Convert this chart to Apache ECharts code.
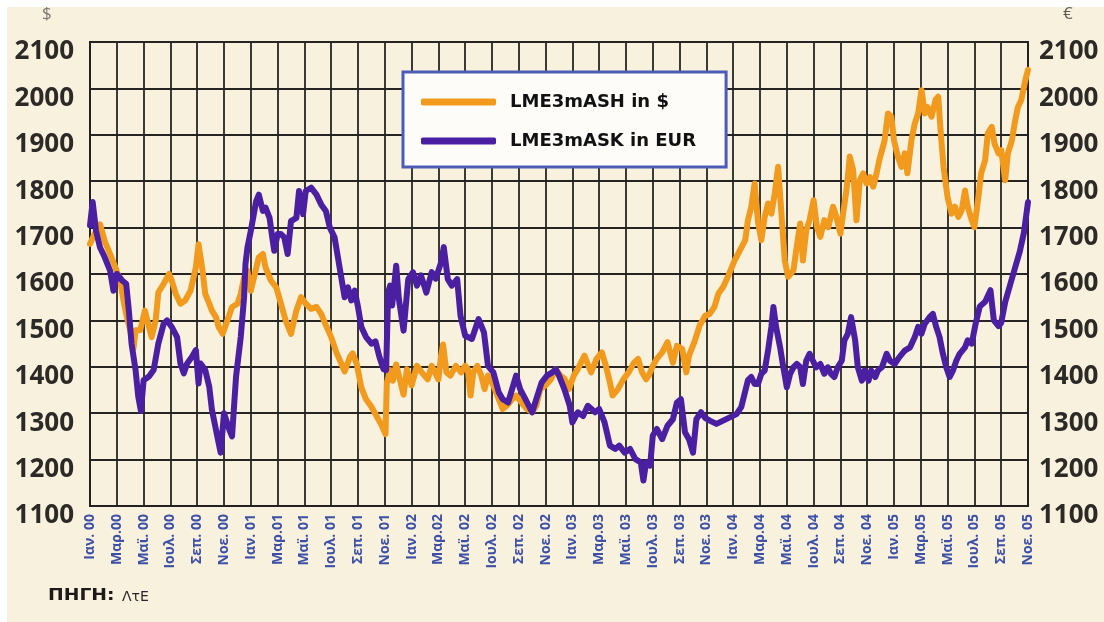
<!DOCTYPE html>
<html>
<head>
<meta charset="utf-8">
<script src="https://cdn.jsdelivr.net/npm/echarts@6/dist/echarts.min.js"></script>
<style>
  html, body { margin: 0; padding: 0; background: #ffffff; }
  #chart { width: 1104px; height: 622px; }
</style>
</head>
<body>
<div id="chart"></div>
<script>
// Tick labels for the month axis (one every two months, Jan 2000 .. Nov 2005)
const monthLabels = [
  'Ιαν. 00','Μαρ.00','Μαϊ. 00','Ιουλ. 00','Σεπ. 00','Νοε. 00',
  'Ιαν. 01','Μαρ.01','Μαϊ. 01','Ιουλ. 01','Σεπ. 01','Νοε. 01',
  'Ιαν. 02','Μαρ.02','Μαϊ. 02','Ιουλ. 02','Σεπ. 02','Νοε. 02',
  'Ιαν. 03','Μαρ.03','Μαϊ. 03','Ιουλ. 03','Σεπ. 03','Νοε. 03',
  'Ιαν. 04','Μαρ.04','Μαϊ. 04','Ιουλ. 04','Σεπ. 04','Νοε. 04',
  'Ιαν. 05','Μαρ.05','Μαϊ. 05','Ιουλ. 05','Σεπ. 05','Νοε. 05'
];

// Aluminium 3-month price in US dollars: [months since Jan 2000, price]
const usdPrices = [
  [0,1665],[0.4,1690],[0.75,1707],[1.1,1671],[1.5,1643],[1.9,1614],[2.25,1586],[2.5,1543],[2.75,1507],
  [3.0,1479],[3.25,1440],[3.4,1479],[3.75,1479],[4.1,1521],[4.4,1486],[4.6,1464],[4.9,1500],[5.1,1560],
  [5.5,1579],[5.9,1600],[6.1,1586],[6.4,1557],[6.75,1536],[7.1,1543],[7.5,1564],[7.9,1614],[8.1,1664],
  [8.4,1607],[8.6,1557],[8.9,1536],[9.1,1521],[9.4,1507],[9.6,1486],[9.9,1471],[10.25,1500],[10.6,1529],
  [11.0,1536],[11.25,1557],[11.5,1593],[11.75,1607],[12.0,1564],[12.3,1600],[12.6,1636],[12.9,1643],
  [13.1,1614],[13.5,1586],[13.9,1571],[14.25,1536],[14.6,1500],[15.0,1471],[15.4,1521],[15.75,1550],
  [16.1,1536],[16.5,1525],[16.9,1529],[17.25,1514],[17.6,1490],[18.0,1464],[18.4,1430],[18.75,1407],
  [19.0,1390],[19.4,1421],[19.6,1429],[19.9,1407],[20.25,1355],[20.6,1330],[21.0,1314],[21.4,1293],
  [21.75,1275],[22.05,1255],[22.15,1365],[22.4,1393],[22.6,1370],[22.85,1405],[23.05,1381],[23.4,1340],
  [23.65,1395],[24.0,1360],[24.4,1402],[24.75,1388],[25.2,1373],[25.5,1402],[26.0,1373],[26.2,1424],
  [26.35,1448],[26.6,1388],[26.9,1381],[27.3,1402],[27.7,1388],[28.0,1402],[28.2,1395],[28.4,1338],
  [28.6,1388],[28.9,1402],[29.2,1381],[29.45,1352],[29.7,1381],[30.1,1360],[30.4,1338],[30.8,1309],
  [31.1,1316],[31.5,1330],[31.8,1338],[32.2,1323],[32.6,1309],[33.0,1302],[33.3,1316],[33.6,1352],
  [34.0,1360],[34.4,1373],[34.75,1395],[35.1,1381],[35.4,1375],[35.75,1352],[36.1,1381],[36.4,1395],
  [36.9,1424],[37.1,1409],[37.4,1388],[37.8,1417],[38.2,1431],[38.5,1402],[38.8,1366],[39.0,1338],
  [39.4,1352],[39.8,1373],[40.2,1388],[40.6,1409],[40.9,1417],[41.2,1388],[41.5,1373],[41.7,1381],
  [42.0,1402],[42.3,1417],[42.7,1431],[43.1,1453],[43.5,1409],[43.8,1445],[44.2,1438],[44.5,1388],
  [44.7,1424],[45.1,1453],[45.5,1489],[45.9,1510],[46.25,1514],[46.6,1529],[46.9,1558],[47.25,1572],
  [47.6,1594],[48.1,1629],[48.5,1651],[48.9,1673],[49.1,1716],[49.35,1745],[49.6,1795],[49.85,1712],
  [50.1,1673],[50.35,1723],[50.6,1752],[50.85,1730],[51.1,1773],[51.35,1831],[51.6,1730],[51.85,1629],
  [52.1,1594],[52.5,1608],[52.7,1651],[53.0,1709],[53.2,1629],[53.45,1694],[53.7,1716],[54.0,1759],
  [54.25,1701],[54.5,1680],[54.8,1716],[55.1,1701],[55.45,1745],[55.7,1723],[56.0,1687],[56.2,1730],
  [56.45,1780],[56.7,1853],[56.95,1824],[57.2,1716],[57.45,1802],[57.7,1817],[57.95,1795],[58.2,1809],
  [58.45,1788],[58.7,1817],[58.9,1845],[59.3,1888],[59.55,1946],[59.8,1939],[60.0,1888],[60.3,1852],
  [60.55,1831],[60.8,1860],[61.0,1817],[61.3,1888],[61.55,1924],[61.8,1946],[62.05,1996],[62.3,1946],
  [62.5,1960],[62.8,1939],[63.1,1975],[63.3,1982],[63.5,1900],[63.7,1830],[64.0,1765],[64.3,1730],
  [64.55,1745],[64.8,1723],[65.05,1737],[65.3,1780],[65.5,1745],[65.8,1716],[66.0,1701],[66.3,1766],
  [66.5,1817],[66.8,1845],[67.0,1903],[67.3,1917],[67.5,1881],[67.8,1860],[68.0,1867],[68.3,1802],
  [68.5,1860],[68.8,1888],[69.0,1924],[69.25,1960],[69.5,1975],[69.75,2011],[70,2040]
];

// Aluminium 3-month price in euro: [months since Jan 2000, price]
const eurPrices = [
  [0,1705],[0.2,1755],[0.45,1693],[0.75,1657],[1.1,1636],[1.5,1607],[1.75,1564],[2.0,1600],[2.4,1586],
  [2.7,1579],[2.9,1521],[3.1,1450],[3.4,1393],[3.6,1336],[3.8,1305],[4.0,1371],[4.4,1379],[4.75,1393],
  [5.1,1450],[5.5,1493],[5.75,1500],[6.1,1486],[6.5,1464],[6.75,1407],[7.0,1386],[7.25,1407],[7.6,1421],
  [7.9,1436],[8.1,1364],[8.25,1407],[8.6,1393],[8.9,1357],[9.1,1307],[9.5,1250],[9.75,1215],[10.0,1300],
  [10.4,1264],[10.6,1250],[10.9,1379],[11.25,1464],[11.5,1550],[11.6,1621],[11.75,1657],[12.0,1693],
  [12.4,1757],[12.6,1771],[12.9,1736],[13.1,1743],[13.4,1721],[13.6,1679],[13.75,1650],[14.0,1686],
  [14.25,1686],[14.5,1679],[14.75,1643],[15.0,1714],[15.4,1721],[15.6,1779],[15.9,1729],[16.1,1779],
  [16.5,1786],[16.9,1771],[17.25,1750],[17.6,1736],[17.9,1700],[18.25,1679],[18.5,1636],[18.75,1593],
  [19.0,1550],[19.25,1571],[19.5,1543],[19.75,1564],[20.0,1529],[20.25,1486],[20.6,1464],[21.0,1450],
  [21.3,1455],[21.6,1421],[21.9,1395],[22.1,1393],[22.25,1560],[22.4,1575],[22.55,1532],[22.85,1618],
  [23.05,1546],[23.4,1478],[23.75,1589],[24.1,1604],[24.4,1575],[24.7,1597],[25.1,1560],[25.5,1604],
  [25.8,1590],[26.2,1625],[26.4,1658],[26.7,1589],[27.0,1575],[27.4,1589],[27.65,1510],[28.0,1467],
  [28.5,1460],[29.0,1503],[29.4,1474],[29.7,1402],[30.1,1388],[30.5,1345],[30.8,1330],[31.2,1323],
  [31.5,1352],[31.8,1381],[32.1,1352],[32.5,1330],[33.0,1302],[33.3,1330],[33.7,1366],[34.1,1381],
  [34.5,1388],[34.75,1395],[35.0,1381],[35.4,1352],[35.8,1316],[36.0,1280],[36.4,1302],[36.8,1294],
  [37.15,1316],[37.7,1302],[38.0,1309],[38.4,1280],[38.8,1230],[39.2,1223],[39.5,1230],[39.9,1215],
  [40.3,1223],[40.7,1201],[41.1,1194],[41.3,1155],[41.5,1194],[41.8,1187],[42.0,1252],[42.3,1266],
  [42.7,1244],[43.1,1273],[43.5,1287],[43.8,1323],[44.1,1330],[44.4,1259],[44.7,1244],[45.0,1215],
  [45.25,1287],[45.6,1302],[45.9,1290],[46.25,1284],[46.75,1277],[47.25,1284],[47.75,1291],[48.25,1298],
  [48.6,1313],[48.85,1342],[49.1,1371],[49.35,1378],[49.6,1363],[49.85,1363],[50.1,1385],[50.35,1392],
  [50.6,1435],[50.85,1486],[51.0,1529],[51.2,1486],[51.5,1442],[51.7,1406],[52.0,1356],[52.25,1385],
  [52.5,1399],[52.75,1406],[53.0,1399],[53.2,1363],[53.45,1413],[53.7,1428],[53.95,1413],[54.2,1399],
  [54.5,1406],[54.8,1385],[55.05,1399],[55.3,1385],[55.55,1378],[55.8,1399],[56.1,1413],[56.3,1457],
  [56.55,1471],[56.8,1507],[57.1,1457],[57.3,1399],[57.6,1370],[57.8,1392],[58.1,1370],[58.3,1392],
  [58.6,1378],[58.8,1392],[59.1,1399],[59.45,1428],[59.7,1413],[60.05,1406],[60.4,1421],[60.8,1435],
  [61.2,1442],[61.55,1464],[61.8,1486],[62.05,1471],[62.3,1493],[62.65,1507],[62.9,1514],[63.15,1486],
  [63.4,1464],[63.65,1428],[63.9,1399],[64.15,1378],[64.4,1392],[64.65,1413],[64.9,1428],[65.3,1442],
  [65.5,1457],[65.8,1450],[66.1,1494],[66.4,1530],[66.8,1540],[67.2,1565],[67.45,1500],[67.8,1488],
  [68.0,1495],[68.3,1540],[68.7,1580],[69.1,1620],[69.4,1650],[69.7,1690],[70,1755]
];

const seriesNames = ['LME3mASH in $', 'LME3mASK in EUR'];
const sourceLabel = 'ΠΗΓΗ:';
const sourceName = 'ΛτΕ';

const paper = '#f7f1de';
const font = '"Open Sans", "Noto Sans", sans-serif';
const wideFont = '"DejaVu Sans", "Open Sans", sans-serif';

const chart = echarts.init(document.getElementById('chart'), null, { renderer: 'canvas' });

const yAxisCommon = {
  type: 'value', min: 1100, max: 2100, interval: 100,
  axisTick: { show: false },
  axisLine: { show: true, lineStyle: { color: '#222', width: 2 } },
  axisLabel: {
    fontFamily: font, fontSize: 26, fontWeight: 'bold', color: '#2c2a27',
    verticalAlign: 'top', lineHeight: 26, padding: [-3, 0, 0, 0],
    formatter: v => String(v)
  }
};

chart.setOption({
  backgroundColor: '#ffffff',
  animation: false,
  graphic: [
    { type: 'rect', left: 7, top: 7, z: -10, shape: { width: 1097, height: 615 }, style: { fill: paper } },
    { type: 'text', left: 42, top: 6, style: { text: '$', font: '17px ' + font, fill: '#7a7670' } },
    { type: 'text', left: 1063, top: 6, style: { text: '€', font: '17px ' + font, fill: '#5e5b57' } },
    {
      type: 'text', left: 48, top: 589, scaleX: 1.25,
      style: { text: sourceLabel, font: 'bold 15px ' + wideFont, fill: '#1d1b1a' }
    },
    {
      type: 'text', left: 122, top: 590,
      style: { text: sourceName, font: '14px ' + wideFont, fill: '#2a2826' }
    }
  ],
  grid: {
    left: 90, right: 76, top: 42, bottom: 116,
    show: true, backgroundColor: paper, borderColor: '#222', borderWidth: 2
  },
  legend: {
    orient: 'vertical', left: 403, top: 72,
    padding: [20, 30, 16, 18], itemGap: 19,
    itemWidth: 75, itemHeight: 7, icon: 'roundRect',
    backgroundColor: '#fdfcf8', borderColor: '#4c5cb6', borderWidth: 3,
    textStyle: { fontFamily: wideFont, fontWeight: 'bold', fontSize: 18, color: '#111', padding: [0, 0, 0, 9], lineHeight: 20 },
    data: seriesNames
  },
  xAxis: {
    type: 'value', min: 0, max: 70, interval: 2,
    axisTick: { show: false },
    axisLine: { show: true, lineStyle: { color: '#222', width: 2 } },
    splitLine: { show: true, lineStyle: { color: '#262523', width: 1.8 } },
    axisLabel: {
      rotate: 90, margin: 8, showMinLabel: true, showMaxLabel: true,
      fontFamily: font, fontSize: 14, fontWeight: 'bold', color: '#3d50a8',
      formatter: v => monthLabels[Math.round(v / 2)] || ''
    }
  },
  yAxis: [
    Object.assign({}, yAxisCommon, {
      position: 'left',
      splitLine: { show: true, lineStyle: { color: '#262523', width: 1.8 } },
      axisLabel: Object.assign({}, yAxisCommon.axisLabel, { margin: 16 })
    }),
    Object.assign({}, yAxisCommon, {
      position: 'right',
      splitLine: { show: false },
      axisLabel: Object.assign({}, yAxisCommon.axisLabel, { margin: 11 })
    })
  ],
  series: [
    {
      name: seriesNames[0], type: 'line', yAxisIndex: 0, data: usdPrices,
      showSymbol: false, symbol: 'none', color: '#f29a1d',
      lineStyle: { width: 6, color: '#f29a1d', cap: 'round', join: 'round' }, z: 3
    },
    {
      name: seriesNames[1], type: 'line', yAxisIndex: 1, data: eurPrices,
      showSymbol: false, symbol: 'none', color: '#4a1fa2',
      lineStyle: { width: 6, color: '#4a1fa2', cap: 'round', join: 'round' }, z: 4
    }
  ]
});
</script>
</body>
</html>
